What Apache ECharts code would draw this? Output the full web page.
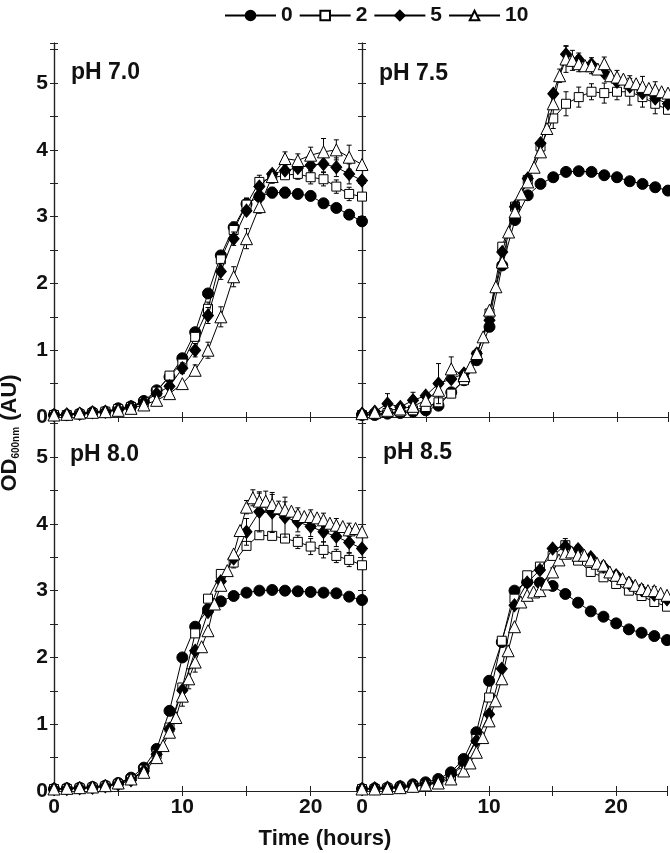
<!DOCTYPE html>
<html>
<head>
<meta charset="utf-8">
<title>OD600 growth curves</title>
<script src="https://cdn.jsdelivr.net/npm/echarts@6/dist/echarts.min.js"></script>
<style>
  html, body { margin: 0; padding: 0; background: #fff; }
  #chart { width: 670px; height: 853px; }
</style>
</head>
<body>
<div id="chart"></div>
<script>
// sampling times (hours)
const hours = [0,1,2,3,4,5,6,7,8,9,10,11,12,13,14,15,16,17,18,19,20,21,22,23,24];
const dense = [0,1,2,3,4,5,6,7,8,8.5,9,9.5,10,10.5,11,11.5,12,12.5,13,13.5,14,14.5,15,15.5,16,16.5,17,17.5,18,18.5,19,19.5,20,20.5,21,21.5,22,22.5,23,23.5,24];

const doses = ["0", "2", "5", "10"];
const panelTitles = ["pH 7.0", "pH 7.5", "pH 8.0", "pH 8.5"];

// pH 7.0
const c70 = [0.03,0.03,0.05,0.07,0.08,0.13,0.16,0.24,0.40,0.60,0.88,1.27,1.85,2.42,2.84,3.19,3.30,3.36,3.36,3.34,3.31,3.20,3.13,3.03,2.93];
const s70 = [0.03,0.03,0.04,0.06,0.08,0.12,0.15,0.22,0.38,0.62,0.80,1.20,1.62,2.36,2.80,3.18,3.52,3.58,3.62,3.64,3.59,3.56,3.45,3.34,3.30];
const d70 = [0.03,0.04,0.05,0.07,0.08,0.11,0.15,0.22,0.35,0.46,0.73,1.00,1.52,2.18,2.67,3.09,3.45,3.64,3.69,3.73,3.77,3.79,3.74,3.64,3.54];
const t70 = [0.03,0.04,0.06,0.07,0.08,0.10,0.13,0.18,0.25,0.35,0.50,0.70,1.00,1.50,2.10,2.67,3.15,3.60,3.87,3.84,3.92,3.97,4.00,3.89,3.78];

// pH 7.5
const c75 = [0.03,0.03,0.05,0.06,0.08,0.10,0.17,0.37,0.55,0.85,1.35,2.27,2.95,3.32,3.49,3.59,3.67,3.68,3.67,3.62,3.59,3.53,3.49,3.44,3.39];
const s75 = [0.03,0.04,0.06,0.08,0.10,0.15,0.22,0.35,0.55,0.92,1.55,2.55,3.15,3.55,4.05,4.47,4.69,4.79,4.87,4.85,4.87,4.87,4.79,4.69,4.60];
const d75 = [0.05,0.08,0.20,0.15,0.25,0.32,0.50,0.57,0.65,0.95,1.45,2.47,3.15,3.57,4.10,4.84,5.43,5.35,5.28,5.15,5.02,4.95,4.85,4.77,4.69];
const t75 = [0.05,0.07,0.10,0.12,0.16,0.25,0.40,0.72,0.62,0.75,0.95,1.20,1.60,1.95,2.32,2.77,3.07,3.34,3.52,3.74,3.97,4.32,4.69,5.11,5.36,5.34,5.29,5.26,5.26,5.21,5.29,5.11,5.09,5.06,5.01,4.99,4.95,4.92,4.90,4.87,4.85];

// pH 8.0
const c80 = [0.03,0.04,0.05,0.06,0.08,0.12,0.20,0.35,0.63,1.20,2.00,2.46,2.72,2.84,2.92,2.97,3.00,3.01,3.00,2.99,2.98,2.97,2.96,2.91,2.86];
const s80 = [0.03,0.03,0.04,0.05,0.07,0.10,0.17,0.32,0.55,0.95,1.55,2.36,2.88,3.25,3.42,3.67,3.83,3.82,3.78,3.73,3.66,3.61,3.52,3.46,3.38];
const d80 = [0.03,0.03,0.04,0.05,0.07,0.10,0.16,0.30,0.55,0.93,1.51,2.10,2.68,3.14,3.48,3.88,4.18,4.17,4.10,4.03,3.96,3.88,3.81,3.72,3.63];
const t80 = [0.03,0.04,0.05,0.06,0.08,0.12,0.18,0.28,0.50,0.68,0.88,1.10,1.42,1.68,1.93,2.16,2.40,2.80,3.08,3.30,3.55,3.90,4.25,4.39,4.34,4.34,4.29,4.24,4.21,4.19,4.14,4.11,4.11,4.09,4.06,4.01,3.98,3.96,3.91,3.93,3.88];

// pH 8.5
const c85 = [0.03,0.04,0.05,0.07,0.10,0.13,0.18,0.28,0.48,0.88,1.65,2.23,3.00,3.13,3.12,3.07,2.95,2.82,2.69,2.61,2.51,2.42,2.37,2.32,2.26];
const s85 = [0.03,0.03,0.04,0.05,0.07,0.09,0.13,0.22,0.40,0.78,1.40,2.25,2.88,3.23,3.36,3.52,3.68,3.45,3.28,3.20,3.10,3.00,2.92,2.83,2.76];
const d85 = [0.03,0.04,0.05,0.06,0.08,0.10,0.15,0.25,0.42,0.75,1.15,1.83,2.78,3.12,3.31,3.63,3.66,3.62,3.50,3.36,3.23,3.11,3.01,2.94,2.87];
const t85 = [0.03,0.03,0.04,0.05,0.07,0.09,0.12,0.18,0.30,0.42,0.58,0.80,1.05,1.35,1.68,2.10,2.46,2.83,2.93,2.98,3.00,3.10,3.28,3.46,3.56,3.58,3.53,3.53,3.46,3.41,3.38,3.28,3.23,3.18,3.13,3.08,3.03,3.00,3.00,2.96,2.93];

// standard deviations where a bar is visible: [time, sd]
const e70 = [
  [[15,0.08],[16,0.08],[17,0.08],[18,0.08],[19,0.07],[20,0.07],[21,0.06],[22,0.06],[23,0.07]],
  [[12,0.1],[13,0.1],[14,0.12],[15,0.1],[16,0.1],[19,0.08],[20,0.1],[21,0.1],[22,0.1],[23,0.1]],
  [[10,0.08],[11,0.1],[12,0.12],[13,0.12],[14,0.1],[20,0.1],[21,0.12],[22,0.14],[23,0.15]],
  [[11,0.08],[12,0.12],[13,0.15],[14,0.15],[15,0.15],[16,0.1],[17,0.1],[18,0.1],[19,0.1],[20,0.12],[21,0.2],[22,0.15],[23,0.18]]
];
const e75 = [
  [],
  [[15,0.15],[16,0.18],[17,0.15],[18,0.12],[19,0.15],[20,0.12],[21,0.2],[22,0.15],[23,0.15]],
  [[2,0.15],[4,0.12],[6,0.3],[16,0.12],[17,0.1]],
  [[7,0.18],[15.5,0.1],[16,0.2],[16.5,0.15],[17,0.12],[18,0.12],[19,0.1],[20,0.1],[21,0.1],[22,0.15],[23,0.12]]
];
const e80 = [
  [],
  [[14,0.08],[19,0.1],[20,0.12],[21,0.12],[22,0.1],[23,0.1]],
  [[15,0.2],[16,0.3],[17,0.3],[18,0.3],[19,0.15],[20,0.15],[21,0.15],[22,0.15],[23,0.15]],
  [[10,0.15],[10.5,0.15],[11,0.15],[15,0.1],[15.5,0.12],[16,0.12],[16.5,0.15],[17,0.15],[17.5,0.1],[18,0.12],[19,0.1],[20,0.1],[21,0.1],[22,0.1],[23,0.1]]
];
const e85 = [
  [],
  [[16,0.1],[18,0.06],[20,0.06],[22,0.06],[23,0.06]],
  [[16,0.08],[17,0.06]],
  [[15,0.06],[16,0.08],[17,0.06],[18,0.06],[19,0.06],[20,0.06],[21,0.06],[22,0.06],[23,0.06]]
];

const panels = [
  [[hours, c70], [hours, s70], [hours, d70], [hours, t70]],
  [[hours, c75], [hours, s75], [hours, d75], [dense, t75]],
  [[hours, c80], [hours, s80], [hours, d80], [dense, t80]],
  [[hours, c85], [hours, s85], [hours, d85], [dense, t85]]
];
const panelErrors = [e70, e75, e80, e85];

const FONT = "'Liberation Sans', Arial, Helvetica, sans-serif";
const INK = "#111";

const grids = [
  { left: 54, top: 43, width: 308, height: 374 },
  { left: 362, top: 43, width: 306, height: 374 },
  { left: 54, top: 417, width: 308, height: 374 },
  { left: 362, top: 417, width: 306, height: 374 }
];
// where the "pH" label sits in each panel
const titlePos = [[71, 73], [379, 74], [70, 455], [383, 453]];

const marks = [
  { symbol: "circle", size: 11, fill: "#000" },
  { symbol: "rect", size: 9, fill: "#fff" },
  { symbol: "diamond", size: [11, 13], fill: "#000" },
  { symbol: "triangle", size: 12, fill: "#fff" }
];

const axisLine = { show: true, lineStyle: { color: "#222", width: 1.2 } };
const tick = (len) => ({ show: true, inside: true, length: len, lineStyle: { color: "#222", width: 1 } });
const tickLabel = {
  fontSize: 21, fontWeight: "bold", fontFamily: FONT, color: INK
};

function errorBar(params, api) {
  const t = api.value(0), v = api.value(1), e = api.value(2);
  const hi = api.coord([t, v + e]);
  const lo = api.coord([t, v - e]);
  const st = { stroke: "#000", lineWidth: 1 };
  return {
    type: "group",
    children: [
      { type: "line", shape: { x1: hi[0], y1: hi[1], x2: lo[0], y2: lo[1] }, style: st },
      { type: "line", shape: { x1: hi[0] - 2.5, y1: hi[1], x2: hi[0] + 2.5, y2: hi[1] }, style: st },
      { type: "line", shape: { x1: lo[0] - 2.5, y1: lo[1], x2: lo[0] + 2.5, y2: lo[1] }, style: st }
    ]
  };
}

const xAxis = [];
const yAxis = [];
const series = [];

grids.forEach((g, i) => {
  const bottomRow = i >= 2;
  const leftCol = i % 2 === 0;
  ["bottom", "top"].forEach((pos) => {
    xAxis.push({
      gridIndex: i, type: "value", position: pos, min: 0, max: 24, interval: 5,
      axisLine, axisTick: tick(5), splitLine: { show: false },
      axisLabel: Object.assign({}, tickLabel, {
        show: pos === "bottom" && bottomRow, margin: 6,
        formatter: (v) => (v % 10 === 0 ? String(v) : "")
      })
    });
  });
  ["left", "right"].forEach((pos) => {
    yAxis.push({
      gridIndex: i, type: "value", position: pos, min: 0, max: 5.6, interval: 0.5,
      axisLine, axisTick: tick(4), splitLine: { show: false },
      axisLabel: Object.assign({}, tickLabel, {
        show: pos === "left" && leftCol, margin: 6,
        formatter: (v) => (Math.abs(v - Math.round(v)) < 1e-6 ? String(Math.round(v)) : "")
      })
    });
  });

  panels[i].forEach(([times, vals], k) => {
    const m = marks[k];
    const errs = panelErrors[i][k];
    if (errs.length) {
      series.push({
        type: "custom",
        xAxisIndex: i * 2,
        yAxisIndex: i * 2,
        renderItem: errorBar,
        data: errs.map(([t, e]) => [t, vals[times.indexOf(t)], e]),
        clip: true,
        silent: true,
        z: 1 + k
      });
    }
    series.push({
      name: doses[k],
      type: "line",
      xAxisIndex: i * 2,
      yAxisIndex: i * 2,
      data: times.map((t, j) => [t, vals[j]]),
      symbol: m.symbol,
      symbolSize: m.size,
      showAllSymbol: true,
      lineStyle: { color: "#000", width: 1 },
      itemStyle: { color: m.fill, borderColor: "#000", borderWidth: 1 },
      clip: true,
      z: 1 + k
    });
  });
});

const graphic = panelTitles.map((txt, i) => ({
  type: "text",
  x: titlePos[i][0],
  y: titlePos[i][1],
  style: {
    text: txt, fontSize: 23, fontWeight: "bold", fontFamily: FONT, fill: INK,
    textAlign: "left", textVerticalAlign: "middle"
  }
}));

graphic.push({
  type: "text",
  x: 325, y: 839,
  style: {
    text: "Time (hours)", fontSize: 22, fontWeight: "bold", fontFamily: FONT, fill: INK,
    textAlign: "center", textVerticalAlign: "middle"
  }
});

graphic.push({
  type: "text",
  x: 10, y: 433,
  rotation: Math.PI / 2,
  style: {
    text: "{a|OD}{b|600nm}{a| (AU)}",
    rich: {
      a: { fontSize: 22, fontWeight: "bold", fontFamily: FONT, fill: INK },
      b: { fontSize: 10, fontWeight: "bold", fontFamily: FONT, fill: INK, verticalAlign: "bottom" }
    },
    textAlign: "center", textVerticalAlign: "middle"
  }
});

const chart = echarts.init(document.getElementById("chart"), null, { renderer: "canvas" });
chart.setOption({
  animation: false,
  backgroundColor: "#fff",
  legend: {
    data: doses,
    left: 219,
    top: 0,
    itemWidth: 51,
    itemHeight: 12,
    itemGap: 6,
    textStyle: { fontSize: 21, fontWeight: "bold", fontFamily: FONT, color: INK }
  },
  grid: grids,
  xAxis,
  yAxis,
  series,
  graphic
});
</script>
</body>
</html>
